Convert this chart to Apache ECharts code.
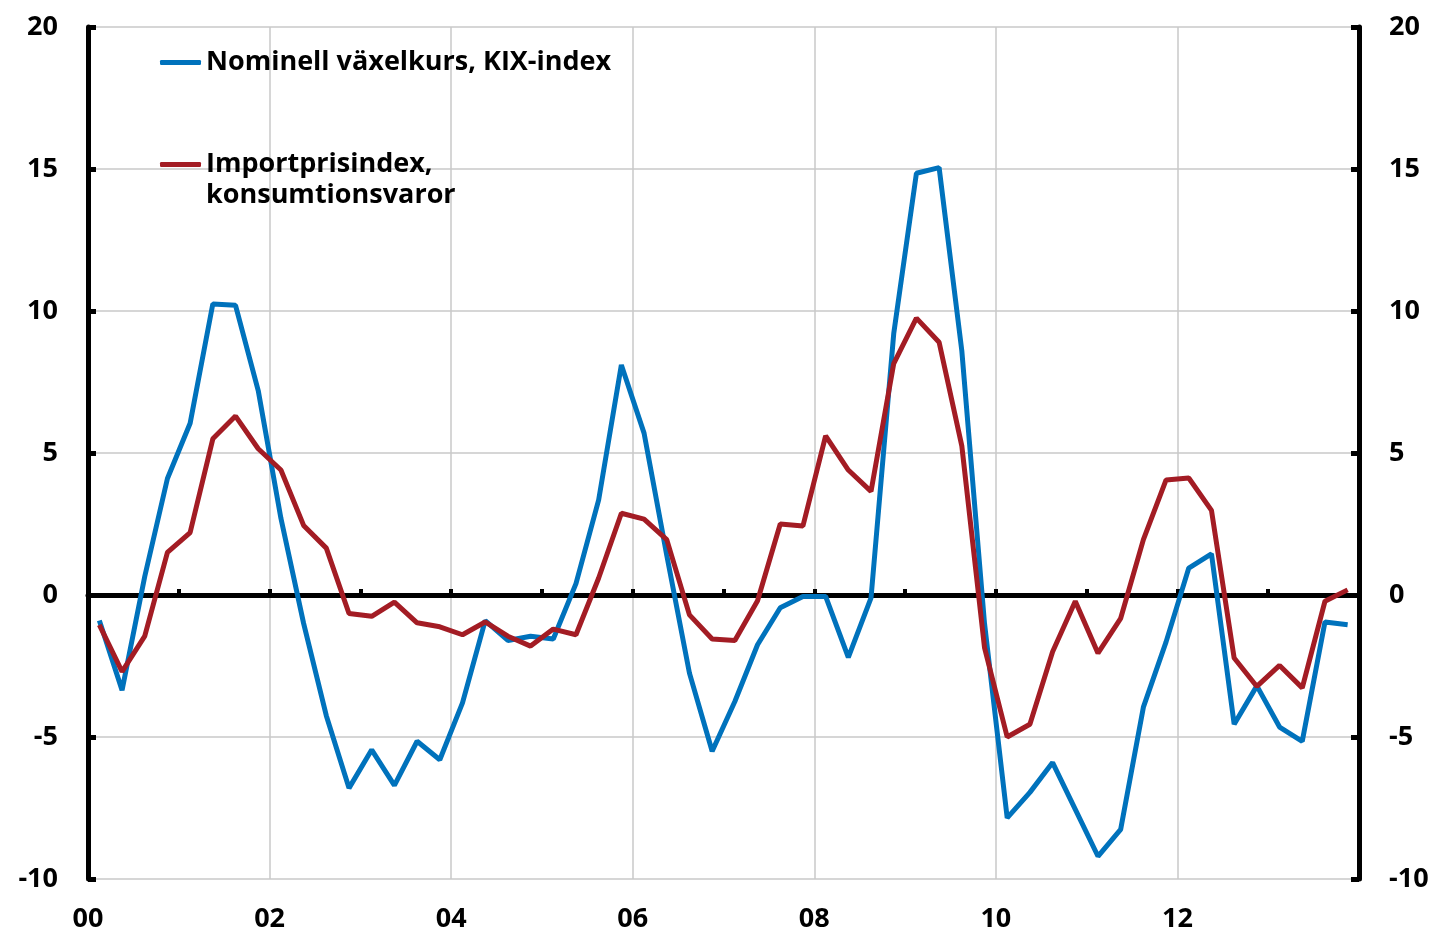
<!DOCTYPE html>
<html>
<head>
    <meta charset="utf-8">
    <script src="https://cdn.jsdelivr.net/npm/echarts@6/dist/echarts.min.js"></script>
</head>
<body style="margin:0">
    <div id="main" style="width: 1443px;height:933px;"></div>
    <script type="text/javascript">
        // kvartal 2000 Q1 - 2013 Q4, årlig procentuell förändring
        var kix = [-0.9, -3.35, 0.65, 4.1, 6.05, 10.25, 10.2, 7.2, 2.7, -1.0, -4.25, -6.8, -5.45, -6.7,
            -5.15, -5.8, -3.8, -0.9, -1.6, -1.45, -1.55, 0.4, 3.35, 8.1, 5.7, 1.4, -2.75, -5.5,
            -3.75, -1.75, -0.45, -0.05, -0.05, -2.2, -0.1, 9.2, 14.85, 15.05, 8.6, -1.0, -7.85, -6.95,
            -5.9, -7.55, -9.2, -8.25, -3.95, -1.65, 0.95, 1.45, -4.55, -3.2, -4.65, -5.15, -0.95, -1.05];
        var importpris = [-1.05, -2.7, -1.45, 1.5, 2.2, 5.5, 6.3, 5.15, 4.4, 2.45, 1.65, -0.65, -0.75, -0.25,
            -0.98, -1.12, -1.4, -0.95, -1.45, -1.8, -1.2, -1.4, 0.6, 2.88, 2.67, 1.95, -0.7, -1.55,
            -1.6, -0.2, 2.5, 2.43, 5.6, 4.4, 3.65, 8.15, 9.75, 8.9, 5.25, -1.85, -5.0, -4.55,
            -2.0, -0.22, -2.05, -0.82, 1.95, 4.05, 4.12, 2.98, -2.22, -3.22, -2.48, -3.27, -0.22, 0.18];
        var yearLabels = ['00', '02', '04', '06', '08', '10', '12', ''];
        var names = ['Nominell växelkurs, KIX-index', 'Importprisindex,\nkonsumtionsvaror'];

        // kvartalets mitt i år räknat från 2000
        function toXY(arr) {
            return arr.map(function (v, i) { return [(i + 0.5) / 4, v]; });
        }

        var font = 'Open Sans';
        var lbl = { color: '#000', fontFamily: font, fontWeight: 'bold', fontSize: 27 };
        var blk = '#000';

        var myChart = echarts.init(document.getElementById('main'));
        var yAxisBase = {
            type: 'value', min: -10, max: 20, interval: 5,
            axisLine: { show: true, onZero: false, lineStyle: { color: blk, width: 5 } },
            axisTick: { show: true, inside: true, length: 8, lineStyle: { color: blk, width: 5 } }
        };
        var option = {
            animation: false,
            grid: { left: 88, right: 84, top: 27, bottom: 54 },
            legend: [{
                data: [names[0]], left: 160, top: 47, padding: 0,
                icon: 'roundRect', itemWidth: 41, itemHeight: 5,
                textStyle: Object.assign({ lineHeight: 31 }, lbl)
            }, {
                data: [names[1]], left: 160, top: 118, padding: 0,
                icon: 'roundRect', itemWidth: 41, itemHeight: 5,
                formatter: function (n) { return '\n' + n; },
                textStyle: Object.assign({ lineHeight: 31 }, lbl)
            }],
            xAxis: [{
                type: 'value', min: 0, max: 14, interval: 1,
                axisLine: { onZero: true, lineStyle: { color: blk, width: 5 } },
                axisTick: { inside: true, length: 6, lineStyle: { color: blk, width: 4 } },
                axisLabel: { show: false },
                splitLine: { show: false }
            }, {
                type: 'value', min: 0, max: 14, interval: 2, position: 'bottom',
                axisLine: { show: false, onZero: false },
                axisTick: { show: false },
                axisLabel: Object.assign({
                    margin: 27,
                    formatter: function (v) { return yearLabels[v / 2]; }
                }, lbl),
                splitLine: { show: true, lineStyle: { color: '#c8c8c8', width: 1.5 } }
            }],
            yAxis: [Object.assign({}, yAxisBase, {
                position: 'left',
                axisLabel: Object.assign({ margin: 30 }, lbl),
                splitLine: { show: true, lineStyle: { color: '#c8c8c8', width: 1.5 } }
            }), Object.assign({}, yAxisBase, {
                position: 'right',
                axisLabel: Object.assign({ margin: 30 }, lbl),
                splitLine: { show: false }
            })],
            series: [{
                name: names[0], type: 'line', data: toXY(kix),
                symbol: 'none', color: '#0072bc',
                lineStyle: { width: 5 }
            }, {
                name: names[1], type: 'line', data: toXY(importpris),
                symbol: 'none', color: '#a31c24',
                lineStyle: { width: 5 }
            }]
        };
        myChart.setOption(option);
    </script>
</body>
</html>
